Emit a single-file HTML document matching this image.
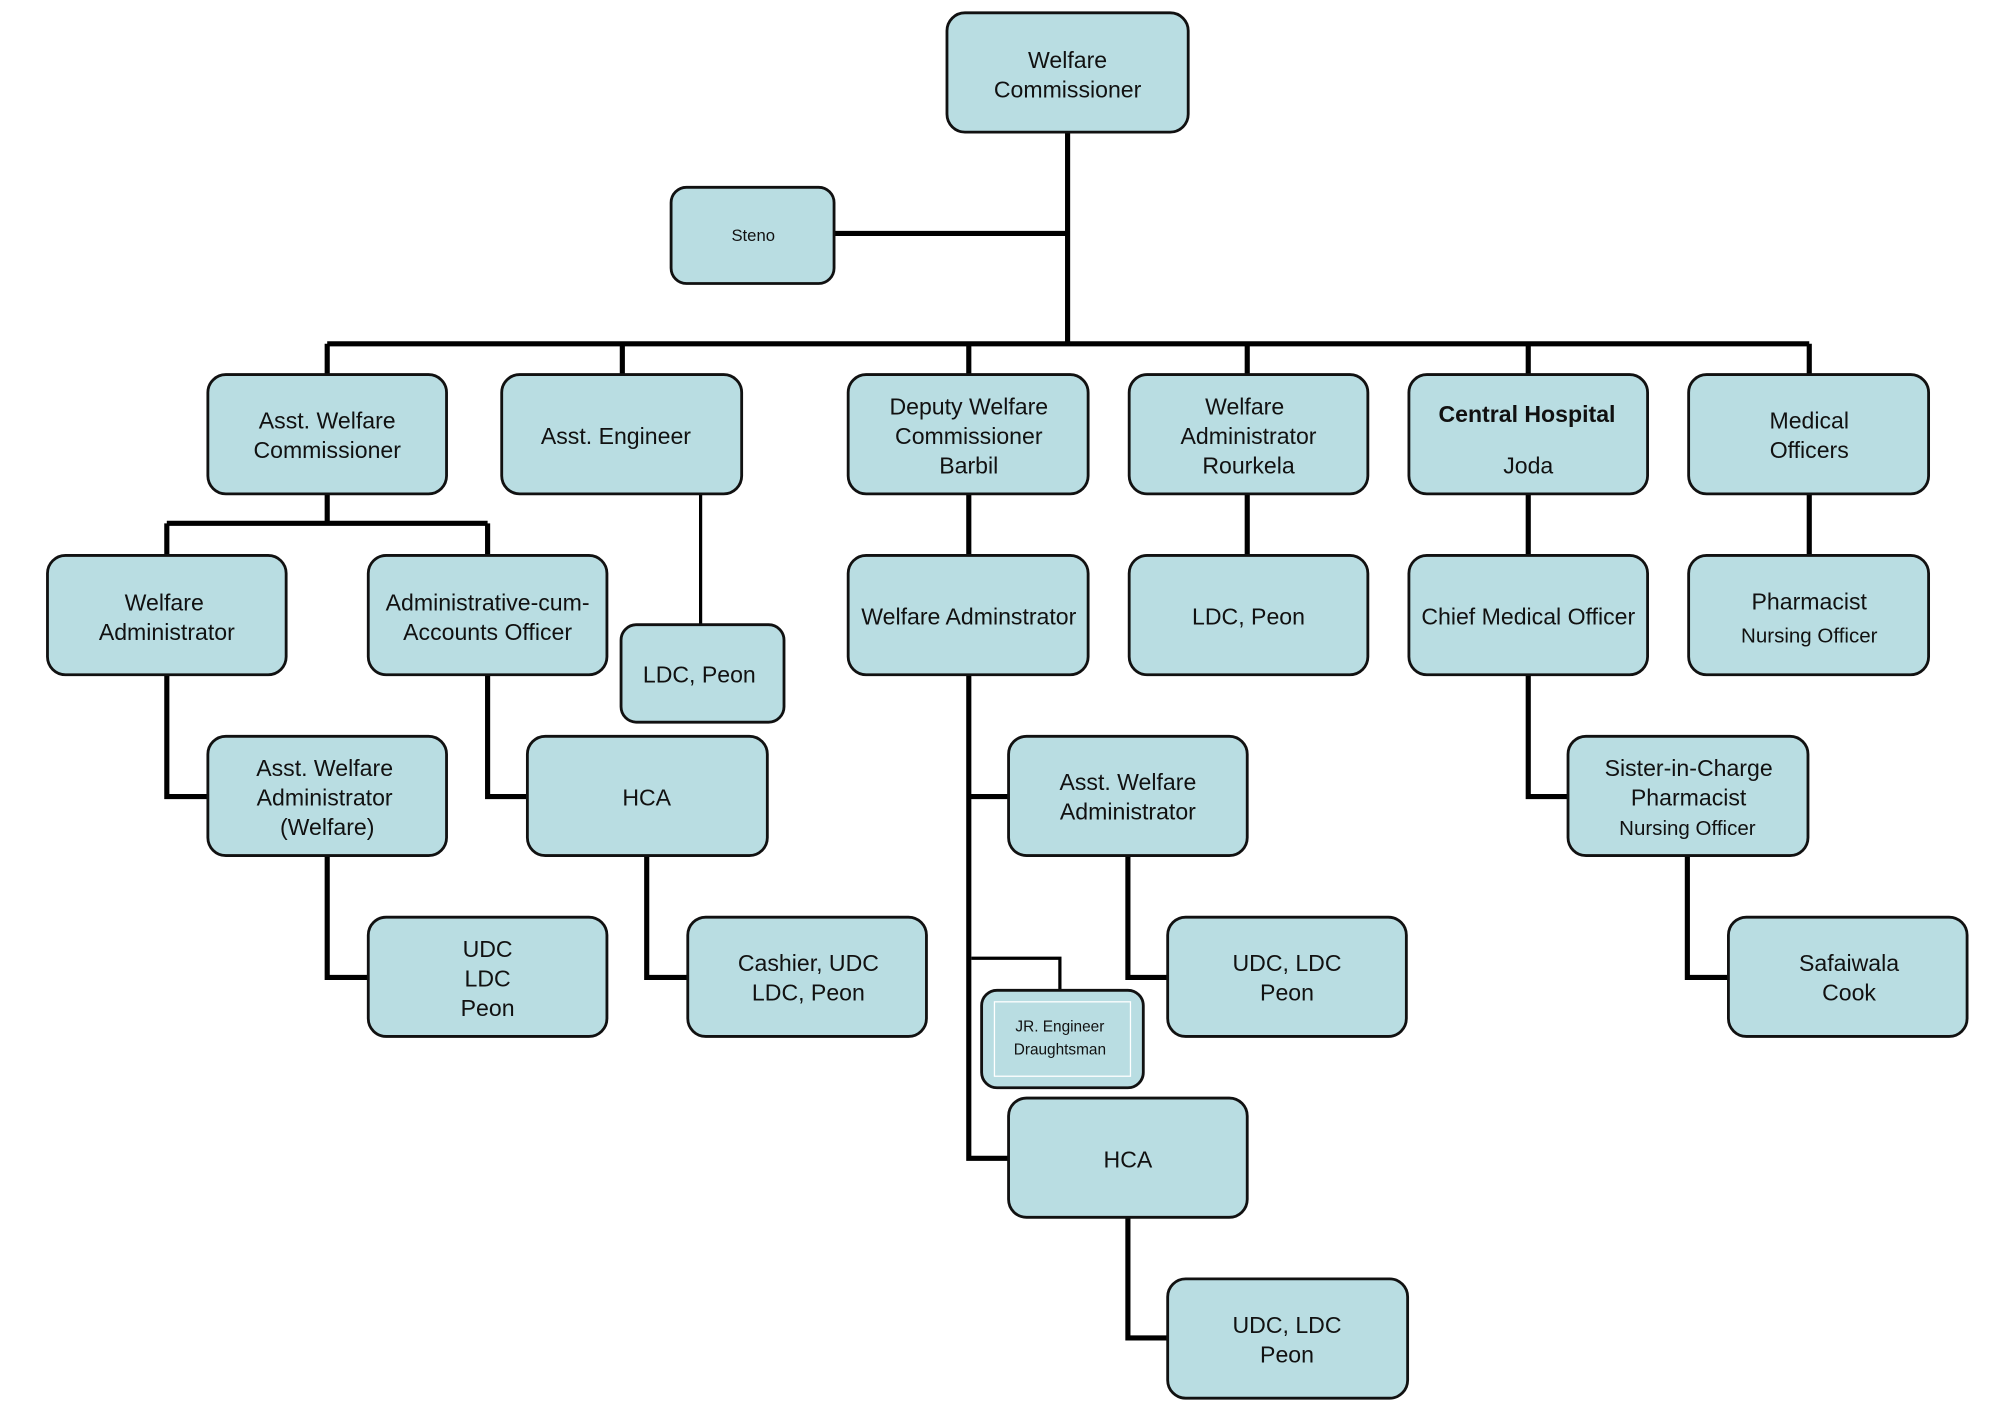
<!DOCTYPE html>
<html><head><meta charset="utf-8"><style>
html,body{margin:0;padding:0;background:#fff;}
svg{display:block;}
text{font-family:"Liberation Sans",sans-serif;font-size:18px;fill:#111;text-anchor:middle;}
.b{fill:#b9dde2;stroke:#111;stroke-width:2.2;}
.l{stroke:#000;stroke-width:4;fill:none;}
</style></head><body>
<svg width="2012" height="1420" viewBox="0 0 1568 1107" preserveAspectRatio="none" xmlns="http://www.w3.org/2000/svg">
<g class="l">
<path d="M832 103V268M650 182H832M255 268H1410M255 268V292M485 268V292M755 268V292M972 268V292M1191 268V292M1410 268V292"/>
<path d="M255 385V408M130 408H380M130 408V433M380 408V433"/>
<path d="M755 385V433M755 526V903H786M755 621H786"/>
<path d="M972 385V433M1191 385V433M1410 385V433"/>
<path d="M130 526V621H162M380 526V621H411M255 667V762H287M504 667V762H536M879 667V762H910M879 949V1043H910M1191 526V621H1222M1315 667V762H1347"/>
</g>
<path d="M546 385V487M757 747H826V772" stroke="#000" stroke-width="2.5" fill="none"/>
<g class="b">
<rect x="738" y="10" width="188" height="93" rx="14"/>
<rect x="523" y="146" width="127" height="75" rx="12"/>
<rect x="162" y="292" width="186" height="93" rx="14"/>
<rect x="391" y="292" width="187" height="93" rx="14"/>
<rect x="661" y="292" width="187" height="93" rx="14"/>
<rect x="880" y="292" width="186" height="93" rx="14"/>
<rect x="1098" y="292" width="186" height="93" rx="14"/>
<rect x="1316" y="292" width="187" height="93" rx="14"/>
<rect x="37" y="433" width="186" height="93" rx="14"/>
<rect x="287" y="433" width="186" height="93" rx="14"/>
<rect x="484" y="487" width="127" height="76" rx="12"/>
<rect x="661" y="433" width="187" height="93" rx="14"/>
<rect x="880" y="433" width="186" height="93" rx="14"/>
<rect x="1098" y="433" width="186" height="93" rx="14"/>
<rect x="1316" y="433" width="187" height="93" rx="14"/>
<rect x="162" y="574" width="186" height="93" rx="14"/>
<rect x="411" y="574" width="187" height="93" rx="14"/>
<rect x="786" y="574" width="186" height="93" rx="14"/>
<rect x="1222" y="574" width="187" height="93" rx="14"/>
<rect x="287" y="715" width="186" height="93" rx="14"/>
<rect x="536" y="715" width="186" height="93" rx="14"/>
<rect x="910" y="715" width="186" height="93" rx="14"/>
<rect x="1347" y="715" width="186" height="93" rx="14"/>
<rect x="765" y="772" width="126" height="76" rx="12"/>
<rect x="786" y="856" width="186" height="93" rx="14"/>
<rect x="910" y="997" width="187" height="93" rx="14"/>
</g>
<rect x="775" y="781" width="106" height="58" fill="none" stroke="#fff" stroke-width="1"/>
<text x="832" y="53">Welfare</text><text x="832" y="76">Commissioner</text>
<text x="587" y="188" style="font-size:13px">Steno</text>
<text x="255" y="334">Asst. Welfare</text><text x="255" y="357">Commissioner</text>
<text x="480" y="346">Asst.  Engineer</text>
<text x="755" y="323">Deputy Welfare</text><text x="755" y="346">Commissioner</text><text x="755" y="369">Barbil</text>
<text x="970" y="323">Welfare</text><text x="973" y="346">Administrator</text><text x="973" y="369">Rourkela</text>
<text x="1190" y="329" style="font-weight:bold">Central Hospital</text><text x="1191" y="369">Joda</text>
<text x="1410" y="334">Medical</text><text x="1410" y="357">Officers</text>
<text x="128" y="476">Welfare</text><text x="130" y="499">Administrator</text>
<text x="380" y="476">Administrative-cum-</text><text x="380" y="499">Accounts Officer</text>
<text x="545" y="532">LDC, Peon</text>
<text x="755" y="487">Welfare Adminstrator</text>
<text x="973" y="487">LDC, Peon</text>
<text x="1191" y="487">Chief Medical Officer</text>
<text x="1410" y="475">Pharmacist</text><text x="1410" y="501" style="font-size:16px">Nursing Officer</text>
<text x="253" y="605">Asst. Welfare</text><text x="253" y="628">Administrator</text><text x="255" y="651">(Welfare)</text>
<text x="504" y="628">HCA</text>
<text x="879" y="616">Asst. Welfare</text><text x="879" y="639">Administrator</text>
<text x="1316" y="605">Sister-in-Charge</text><text x="1316" y="628">Pharmacist</text><text x="1315" y="651" style="font-size:16px">Nursing Officer</text>
<text x="380" y="746">UDC</text><text x="380" y="769">LDC</text><text x="380" y="792">Peon</text>
<text x="630" y="757">Cashier, UDC</text><text x="630" y="780">LDC, Peon</text>
<text x="1003" y="757">UDC, LDC</text><text x="1003" y="780">Peon</text>
<text x="1441" y="757">Safaiwala</text><text x="1441" y="780">Cook</text>
<text x="826" y="804" style="font-size:12px">JR. Engineer</text><text x="826" y="822" style="font-size:12px">Draughtsman</text>
<text x="879" y="910">HCA</text>
<text x="1003" y="1039">UDC, LDC</text><text x="1003" y="1062">Peon</text>
</svg>
</body></html>
